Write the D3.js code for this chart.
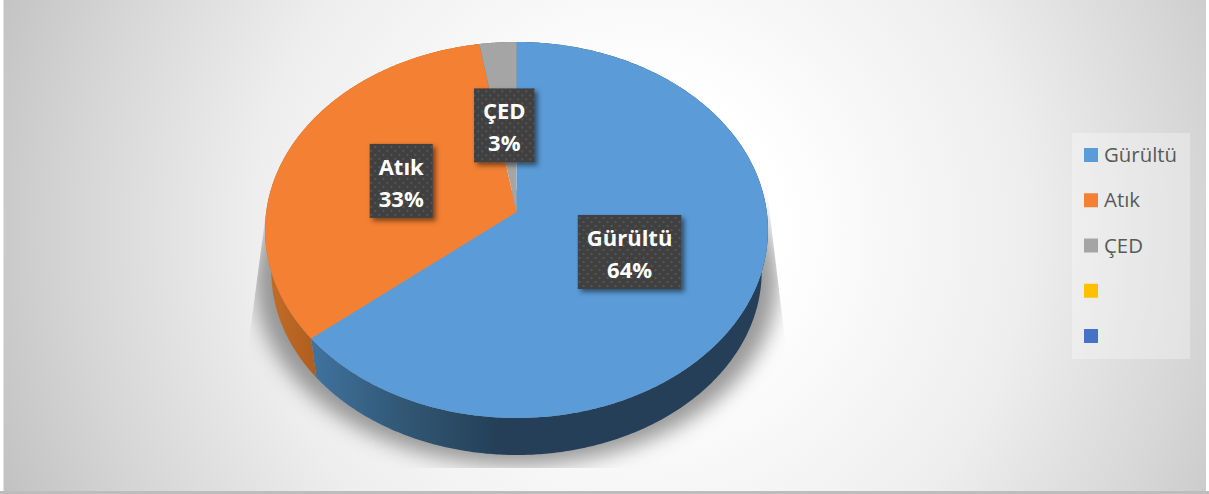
<!DOCTYPE html>
<html>
<head>
<meta charset="utf-8">
<script src="https://cdn.jsdelivr.net/npm/d3@7"></script>
<style>
  html, body { margin: 0; padding: 0; background: #fff; }
  svg { display: block; }
  text { font-family: "Open Sans", sans-serif; }
</style>
</head>
<body>
<div id="chart"></div>
<script>
const categories = ["Gürültü", "Atık", "ÇED", "", ""]
const values = [64.0, 33.4, 2.6, 0, 0]
const colors = ["#5b9bd8", "#f38033", "#a5a5a5", "#ffc000", "#4472c4"]
const sideColors = ["url(#sideBlue)", "url(#sideOrange)", "#6b6b6b", "#000", "#000"]

const width = 1209
const height = 494

// tilted disc: apex of the pie sits above the middle of the ellipse
const cx = 516.5, cy = 212, rx = 250.3, ry = 166, tilt = -0.0957
// the lower rim shrinks toward a far vanishing point
const vanishY = 1898, depth = 0.975

const project = (x, y) => {
  const w = 1 + tilt * y
  return [cx + rx * x / w, (cy + ry * y) / w]
}
const lower = ([x, y]) => [cx + depth * (x - cx), vanishY + depth * (y - vanishY)]
const polar = (a, r = 1) => project(r * Math.sin(a), -r * Math.cos(a))

const svg = d3.select("#chart").append("svg")
  .attr("width", width)
  .attr("height", height)

const defs = svg.append("defs")

const bg = defs.append("radialGradient")
  .attr("id", "bg")
  .attr("gradientUnits", "userSpaceOnUse")
  .attr("cx", 640).attr("cy", 230).attr("r", 700)
bg.selectAll("stop")
  .data([[0, "#fff"], [0.2, "#fff"], [0.55, "#eeeeee"], [0.8, "#d6d6d6"], [1, "#c0c0c0"]])
  .join("stop")
  .attr("offset", d => d[0])
  .attr("stop-color", d => d[1])

const addSide = (id, x1, x2, stops) => {
  const g = defs.append("linearGradient")
    .attr("id", id)
    .attr("gradientUnits", "userSpaceOnUse")
    .attr("x1", x1).attr("x2", x2).attr("y1", 0).attr("y2", 0)
  g.selectAll("stop").data(stops).join("stop")
    .attr("offset", d => d[0])
    .attr("stop-color", d => d[1])
}
addSide("sideBlue", 312, 500, [[0, "#40739f"], [0.45, "#325977"], [1, "#243f57"]])
addSide("sideOrange", 265, 318, [[0, "#c46d27"], [1, "#ae5d1f"]])

defs.append("filter").attr("id", "blur")
  .attr("x", "-20%").attr("y", "-20%").attr("width", "140%").attr("height", "140%")
  .append("feGaussianBlur").attr("stdDeviation", 10)

const labelShadow = defs.append("filter").attr("id", "labelShadow")
  .attr("x", "-20%").attr("y", "-20%").attr("width", "150%").attr("height", "150%")
labelShadow.append("feDropShadow")
  .attr("dx", 3).attr("dy", 3).attr("stdDeviation", 2.5)
  .attr("flood-color", "#000").attr("flood-opacity", 0.5)

const dots = defs.append("pattern").attr("id", "dots")
  .attr("patternUnits", "userSpaceOnUse")
  .attr("width", 8).attr("height", 8)
dots.append("rect").attr("width", 8).attr("height", 8).attr("fill", "#404040")
dots.selectAll("circle").data([[2, 2], [6, 6]]).join("circle")
  .attr("cx", d => d[0]).attr("cy", d => d[1]).attr("r", 1)
  .attr("fill", "#5c5c5c")

defs.append("clipPath").attr("id", "shadowClip")
  .append("polygon")
  .attr("points", "269,190 249,340 249,468 785,468 785,340 767,190")

// background and frame
svg.append("rect").attr("x", 0).attr("y", 0).attr("width", width).attr("height", height).attr("fill", "#fff")
svg.append("rect").attr("x", 4).attr("y", 0).attr("width", 1202).attr("height", 491).attr("fill", "url(#bg)")
svg.append("rect").attr("x", 0).attr("y", 491).attr("width", width).attr("height", 3).attr("fill", "#bdbdbd")
svg.append("rect").attr("x", 3).attr("y", 0).attr("width", 1).attr("height", 491).attr("fill", "#e2e2e2")

const pie = d3.pie().sort(null).value(d => d)
const arcs = pie(values).map((d, i) => ({ ...d, i })).filter(d => d.value > 0)

const line = d3.line()
const rim = (a0, a1, map = p => p) => {
  const n = Math.max(2, Math.ceil((a1 - a0) / 0.01))
  return d3.range(n + 1).map(k => map(polar(a0 + (a1 - a0) * k / n)))
}

// shadow under the disc
const whole = rim(0, 2 * Math.PI)
svg.append("g").attr("clip-path", "url(#shadowClip)")
  .append("path")
  .attr("d", line(whole.map(lower).map(([x, y]) => [cx + 1.065 * (x - cx), y + 10])) + "Z")
  .attr("fill", "#808080")
  .attr("opacity", 0.8)
  .attr("filter", "url(#blur)")

// side wall, top face hides the back half
svg.append("g").selectAll("path")
  .data(arcs)
  .join("path")
  .attr("d", d => line([...rim(d.startAngle, d.endAngle), ...rim(d.startAngle, d.endAngle, lower).reverse()]) + "Z")
  .attr("fill", d => sideColors[d.i])

// top face
svg.append("g").selectAll("path")
  .data(arcs)
  .join("path")
  .attr("d", d => line([project(0, 0), ...rim(d.startAngle, d.endAngle)]) + "Z")
  .attr("fill", d => colors[d.i])

// data labels
const percent = d3.format(".0f")
const labelNudge = [[-2.5, -0.5], [0, 1], [-2.5, 2]]
const labels = svg.append("g").selectAll("g")
  .data(arcs)
  .join("g")
  .attr("transform", d => {
    const p = polar((d.startAngle + d.endAngle) / 2, 0.5)
    return `translate(${p[0] + labelNudge[d.i][0]},${p[1] + labelNudge[d.i][1]})`
  })

const boxes = labels.append("rect")
  .attr("y", -37)
  .attr("height", 74)
  .attr("fill", "url(#dots)")
  .attr("filter", "url(#labelShadow)")

const names = labels.append("text")
  .attr("text-anchor", "middle")
  .attr("y", -6)
  .attr("fill", "#fff")
  .attr("font-weight", 700)
  .attr("font-size", 22)
  .text(d => categories[d.i])

labels.append("text")
  .attr("text-anchor", "middle")
  .attr("y", 26)
  .attr("fill", "#fff")
  .attr("font-weight", 700)
  .attr("font-size", 22)
  .text(d => percent(d.value) + "%")

names.each(function(d) { d.textWidth = this.getComputedTextLength() })
boxes.attr("x", d => -(d.textWidth + 18) / 2).attr("width", d => d.textWidth + 18)

// legend
const legendY = d3.scalePoint()
  .domain(d3.range(categories.length))
  .range([155, 336])

svg.append("rect")
  .attr("x", 1072).attr("y", 133).attr("width", 118).attr("height", 226)
  .attr("fill", "#fff").attr("opacity", 0.3)

const legend = svg.append("g").selectAll("g")
  .data(categories)
  .join("g")
  .attr("transform", (d, i) => `translate(1084,${legendY(i)})`)

legend.append("rect")
  .attr("y", -7).attr("width", 14).attr("height", 14)
  .attr("fill", (d, i) => colors[i])

legend.append("text")
  .attr("x", 20).attr("y", 7)
  .attr("fill", "#595959")
  .attr("font-size", 20.4)
  .text(d => d)
</script>
</body>
</html>
